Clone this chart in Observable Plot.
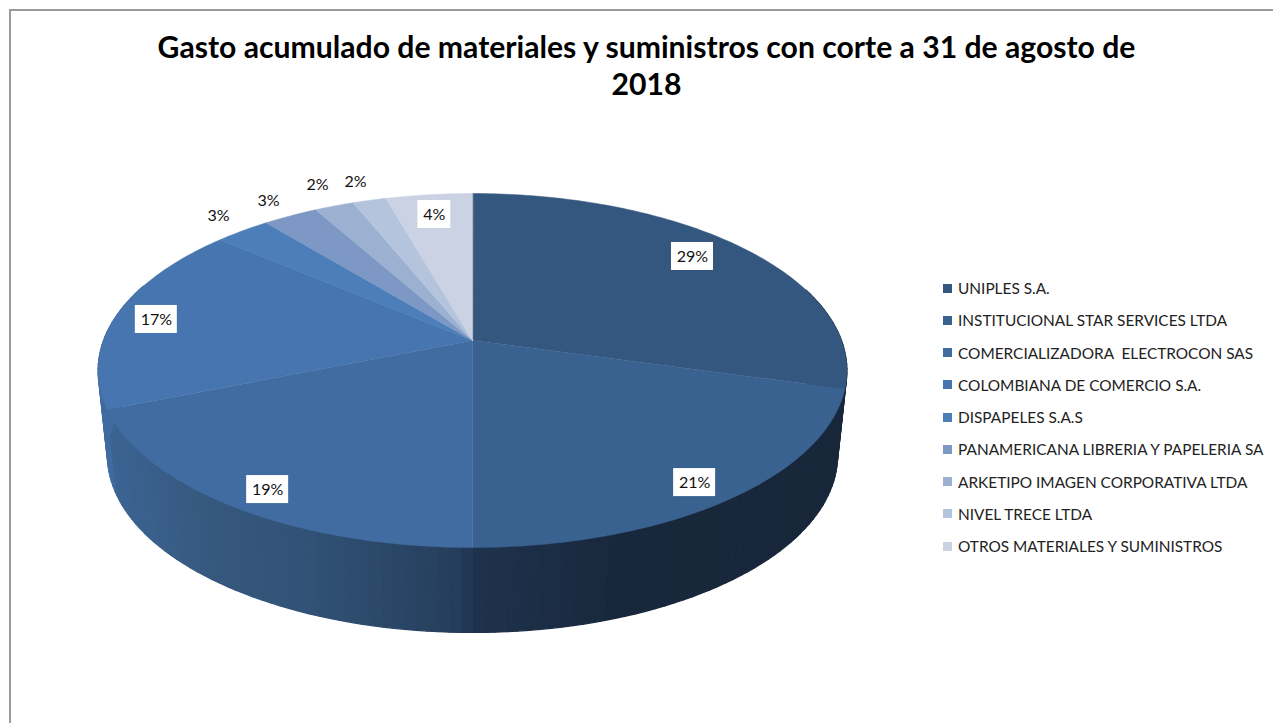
<!DOCTYPE html>
<html lang="es">
<head>
<meta charset="utf-8">
<script src="https://cdn.jsdelivr.net/npm/d3@7"></script>
<script src="https://cdn.jsdelivr.net/npm/@observablehq/plot@0.6"></script>
<style>
  html, body { margin: 0; padding: 0; background: #fff; width: 1273px; height: 723px; overflow: hidden; }
  #chart { position: relative; width: 1273px; height: 723px; font-family: Lato, "Open Sans", sans-serif; color: #000; }
  #frame { position: absolute; left: 9px; top: 9px; right: 0; bottom: 0; border-left: 2px solid #9a9a9a; border-top: 2px solid #9a9a9a; pointer-events: none; }
  #title { position: relative; margin: 0; height: 110px; padding-top: 28px; box-sizing: border-box; text-align: center; font-size: 30.15px; line-height: 37px; font-weight: 700; letter-spacing: 0; }
  #title span { display: block; position: relative; left: 10px; }
  #legend { position: absolute; left: 943px; top: 272px; }
  .row { display: flex; align-items: center; height: 32.25px; font-size: 15.4px; color: #222; white-space: pre; }
  .swatch { width: 9px; height: 9px; margin-right: 6px; flex: none; }
  svg { display: block; }
</style>
</head>
<body>
<div id="chart">
  <div id="frame"></div>
  <h1 id="title"><span>Gasto acumulado de materiales y suministros con corte a 31 de agosto de</span><span>2018</span></h1>
  <div id="legend"></div>
</div>
<script>
const vendors = [
  "UNIPLES S.A.",
  "INSTITUCIONAL STAR SERVICES LTDA",
  "COMERCIALIZADORA  ELECTROCON SAS",
  "COLOMBIANA DE COMERCIO S.A.",
  "DISPAPELES S.A.S",
  "PANAMERICANA LIBRERIA Y PAPELERIA SA",
  "ARKETIPO IMAGEN CORPORATIVA LTDA",
  "NIVEL TRECE LTDA",
  "OTROS MATERIALES Y SUMINISTROS"
];
// Shares estimated from the slice boundaries in the picture; labels show them rounded
const shares = [29.3, 20.65, 18.85, 17.4, 2.8, 2.8, 2.0, 1.7, 4.4];
const sliceColors = ["#34577f", "#3a6291", "#416ca2", "#4775af", "#4c7eb9", "#7d98c4", "#9cb1d1", "#b5c4dd", "#cbd2e3"];
// Where each percentage label sits on the pie's own plane (across, depth; rim = 1)
const labelAcross = [0.650, 0.528, -0.484, -0.875, -0.785, -0.641, -0.496, -0.376, -0.118];
const labelDepth  = [0.533, -0.725, -0.756, 0.125, 0.829, 0.945, 1.073, 1.097, 0.837];

// View of the tilted disc
const radius = 369, tilt = 171.9, perspective = 0.1695;
const wallDrop = 85, wallShrink = 0.975;
const project = (across, depth) => {
  const f = 1 / (1 + perspective * depth);
  return [radius * across * f, tilt * depth * f];
};
const rim = (turn) => project(Math.sin(turn * 2 * Math.PI), Math.cos(turn * 2 * Math.PI));

const total = d3.sum(shares);
const stops = d3.cumsum(shares).map((c) => c / total);
const starts = [0, ...stops.slice(0, -1)];

// Top face: one closed polygon for each slice
const topFace = vendors.flatMap((name, i) => {
  const n = Math.max(2, Math.ceil((stops[i] - starts[i]) * 360));
  const pts = [[0, 0], ...d3.range(n + 1).map((k) => rim(starts[i] + (stops[i] - starts[i]) * k / n))];
  return pts.map(([x, y]) => ({ name, color: sliceColors[i], x, y }));
});

// Side wall: strips, shaded from left to right like the original's lighting
const wallShade = d3.scaleLinear()
  .domain([-365, -270, -170, -70, -2, 2, 90, 150, 365])
  .range(["#3c6493", "#36597f", "#325377", "#2a4666", "#243c59", "#1f334e", "#1b2c44", "#18283c", "#18273a"])
  .clamp(true);
const lastBigStop = stops[2];
const step = 1 / 240;
const wall = d3.range(0.2, 0.8, step).flatMap((t, i) => {
  const a = rim(t), b = rim(t + step);
  const color = t >= lastBigStop ? "#3f6ba1" : wallShade(a[0]);
  const low = ([x, y]) => ({ id: i, color, x: x * wallShrink, y: y - wallDrop });
  return [{ id: i, color, x: a[0], y: a[1] }, { id: i, color, x: b[0], y: b[1] }, low(b), low(a)];
});

const labels = vendors.map((name, i) => {
  const [x, y] = project(labelAcross[i], labelDepth[i]);
  const text = `${Math.round(shares[i])}%`;
  const halfW = text.length > 2 ? 21 : 16.5;
  return { text, x, y, x1: x - halfW, x2: x + halfW, y1: y - 14, y2: y + 14 };
});

const pie = Plot.plot({
  width: 1273,
  height: 613,
  margin: 0,
  x: { domain: [-472, 801], range: [0, 1273], axis: null },
  y: { domain: [230, -383], range: [0, 613], axis: null },
  color: { type: "identity" },
  style: { background: "transparent", overflow: "visible" },
  marks: [
    Plot.line(wall, { x: "x", y: "y", z: "id", fill: "color", stroke: "color", strokeWidth: 1.2, curve: "linear-closed" }),
    Plot.line(topFace, { x: "x", y: "y", z: "name", fill: "color", stroke: "color", strokeWidth: 0.5, curve: "linear-closed" }),
    Plot.rect(labels, { x1: "x1", x2: "x2", y1: "y1", y2: "y2", fill: "#fff" }),
    Plot.text(labels, { x: "x", y: "y", text: "text", fontSize: 16, fontFamily: "Lato, sans-serif", fill: "#111" })
  ]
});
document.getElementById("chart").appendChild(pie);

const legend = d3.select("#legend");
vendors.forEach((name, i) => {
  const row = legend.append("div").attr("class", "row");
  row.append("span").attr("class", "swatch").style("background", sliceColors[i]);
  row.append("span").text(name);
});
</script>
</body>
</html>
